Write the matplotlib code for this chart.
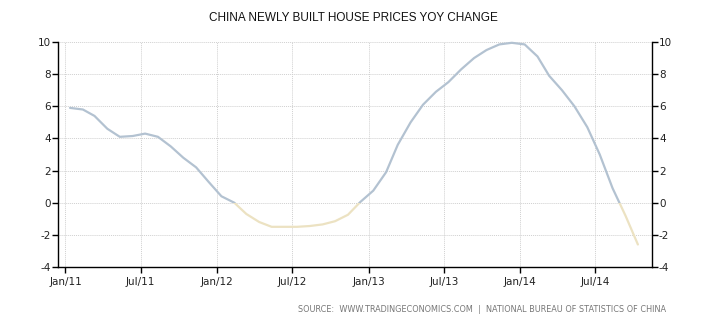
import numpy as np
import pandas as pd
import matplotlib
matplotlib.use("Agg")
import matplotlib.pyplot as plt
import matplotlib.dates as mdates
import matplotlib.transforms as mtransforms
from matplotlib.patches import Rectangle

# monthly YoY change (%), Jan 2011 - Oct 2014
months = pd.date_range("2011-01-01", "2014-10-01", freq="MS") + pd.Timedelta(days=11)
yoy = [5.9, 5.8, 5.4, 4.6, 4.1, 4.15, 4.3, 4.1, 3.5, 2.8, 2.2, 1.3,
       0.4, 0.0, -0.7, -1.2, -1.5, -1.5, -1.5, -1.45, -1.35, -1.15, -0.75, 0.05,
       0.75, 1.9, 3.6, 5.0, 6.1, 6.9, 7.5, 8.3, 9.0, 9.5, 9.85, 9.95,
       9.85, 9.1, 7.9, 7.0, 6.0, 4.7, 3.0, 0.9, -0.8, -2.6]

tick_dates = pd.to_datetime(["2011-01-01", "2011-07-01", "2012-01-01", "2012-07-01",
                             "2013-01-01", "2013-07-01", "2014-01-01", "2014-07-01"])
tick_labels = ["Jan/11", "Jul/11", "Jan/12", "Jul/12", "Jan/13", "Jul/13", "Jan/14", "Jul/14"]
y_ticks = [-4, -2, 0, 2, 4, 6, 8, 10]

pos_color = "#b3c2d1"
neg_color = "#ece2c2"

fig = plt.figure(figsize=(7.1, 3.25), dpi=100)
ax = fig.add_axes([58 / 710, 1 - 267 / 325, (652 - 58) / 710, (267 - 42) / 325])

# same line drawn twice, clipped above / below zero
blend = mtransforms.blended_transform_factory(ax.transAxes, ax.transData)
above, = ax.plot(months, yoy, color=pos_color, linewidth=1.6,
                 solid_capstyle="round", solid_joinstyle="round")
below, = ax.plot(months, yoy, color=neg_color, linewidth=1.6,
                 solid_capstyle="round", solid_joinstyle="round")
above.set_clip_path(Rectangle((0, 0), 1, 20, transform=blend))
below.set_clip_path(Rectangle((0, -20), 1, 20, transform=blend))

ax.set_xlim(pd.Timestamp("2010-12-14"), pd.Timestamp("2014-11-15"))
ax.set_ylim(-4, 10)
ax.set_xticks(tick_dates)
ax.set_xticklabels(tick_labels)
ax.set_yticks(y_ticks)
ax.set_yticklabels([str(v) for v in y_ticks])

ax.grid(True, color="#d0d0d0", linestyle=(0, (1, 1)), linewidth=0.7)
ax.set_axisbelow(True)

for side in ["left", "bottom", "right"]:
    ax.spines[side].set_color("black")
    ax.spines[side].set_linewidth(1.0)
ax.spines["top"].set_visible(False)

ax.tick_params(axis="y", which="both", left=True, right=True, labelleft=True, labelright=True,
               direction="out", length=4, width=1, labelsize=7.5, pad=1, colors="black")
ax.tick_params(axis="x", direction="out", length=4, width=1, labelsize=7.5, pad=3, colors="black")
for lab in ax.get_xticklabels() + ax.get_yticklabels():
    lab.set_color("#222222")

fig.text(0.498, 1 - 18 / 325, "CHINA NEWLY BUILT HOUSE PRICES YOY CHANGE",
         ha="center", va="center", fontsize=8.5, color="#111111", family="Liberation Sans")
fig.text(666 / 710, 1 - 310 / 325,
         "SOURCE:  WWW.TRADINGECONOMICS.COM  |  NATIONAL BUREAU OF STATISTICS OF CHINA",
         ha="right", va="center", fontsize=5.9, color="#777777")

fig.savefig("out.png", dpi=100)
